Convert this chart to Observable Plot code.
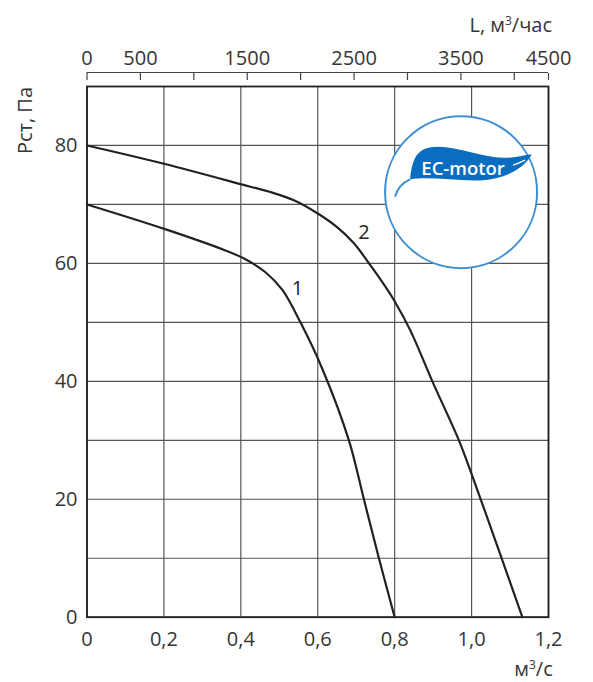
<!DOCTYPE html>
<html>
<head>
<meta charset="utf-8">
<script src="https://cdn.jsdelivr.net/npm/d3@7"></script>
<script src="https://cdn.jsdelivr.net/npm/@observablehq/plot@0.6"></script>
<style>
  body { margin: 0; background: #fff; }
  svg { font-family: "Open Sans", sans-serif; }
</style>
</head>
<body>
<div id="chart"></div>
<script>
// Airflow (m³/s) and static pressure (Pa)
const curve1Flow = [0, 0.199, 0.36, 0.412, 0.464, 0.508, 0.555, 0.612, 0.681, 0.72, 0.759, 0.8];
const curve1Pres = [70, 65.9, 62.2, 60.7, 58.5, 55.5, 50.0, 42.1, 30, 20, 10, 0];
const curve2Flow = [0, 0.2, 0.425, 0.477, 0.538, 0.599, 0.651, 0.694, 0.729, 0.763, 0.798, 0.841, 0.898, 0.967, 1.0, 1.078, 1.132];
const curve2Pres = [80, 76.9, 73.0, 72.1, 70.7, 68.5, 66.1, 63.4, 60.4, 57.3, 53.8, 48.6, 40, 30, 24.3, 10, 0];

const xTicks = [0, 0.2, 0.4, 0.6, 0.8, 1.0, 1.2];
const yTicks = [0, 20, 40, 60, 80];
const yGrid = [0, 10, 20, 30, 40, 50, 60, 70, 80, 90];
const topTicksH = [0, 500, 1000, 1500, 2000, 2500, 3000, 3500, 4000, 4320];
const topLabelsH = [0, 500, 1500, 2500, 3500, 4500];
const curveLabels = [{t: "1", x: 0.547, y: 55.7}, {t: "2", x: 0.72, y: 65.3}];

const rows = (fs, ps, id) => fs.map((f, i) => ({flow: f, p: ps[i], id}));
const data = [...rows(curve1Flow, curve1Pres, 1), ...rows(curve2Flow, curve2Pres, 2)];
const maxFlowH = 1.2 * 3600;
const fmt = d => d === 0 ? "0" : d.toFixed(1).replace(".", ",");

const textColor = "#353535";
const fs = 20;

const plot = Plot.plot({
  width: 593,
  height: 682,
  marginTop: 86,
  marginLeft: 86.5,
  marginRight: 45,
  marginBottom: 65.3,
  style: {fontSize: fs + "px", fontFamily: "Open Sans, sans-serif", color: textColor, background: "#fff"},
  x: {domain: [0, 1.2]},
  y: {domain: [0, 90]},
  marks: [
    Plot.gridX(xTicks, {stroke: "#555", strokeOpacity: 1, strokeWidth: 1.2}),
    Plot.gridY(yGrid, {stroke: "#555", strokeOpacity: 1, strokeWidth: 1.2}),
    Plot.frame({stroke: "#222", strokeWidth: 1.8}),
    Plot.axisX(xTicks, {anchor: "bottom", tickSize: 0, tickPadding: 15, tickFormat: fmt, fontSize: fs, label: null, fill: textColor}),
    Plot.axisY(yTicks, {anchor: "left", tickSize: 0, tickPadding: 9.5, fontSize: fs, label: null, fill: textColor}),
    // top axis (m³/час)
    Plot.ruleY([90], {dy: -14, stroke: "#444", strokeWidth: 1.2}),
    Plot.axisX(topTicksH.map(h => h / 3600), {anchor: "top", tickSize: -7, dy: -14, tickFormat: () => "", label: null, stroke: "#444", strokeWidth: 1.2}),
    Plot.text(topLabelsH, {x: h => Math.min(h, maxFlowH) / 3600, text: h => String(h), frameAnchor: "top", dy: -27.5, lineAnchor: "middle", fontSize: fs, fill: textColor}),
    Plot.text(["L, м³/час"], {frameAnchor: "top-right", textAnchor: "end", dx: 3.5, dy: -61, lineAnchor: "middle", fontSize: fs, fill: textColor}),
    Plot.text(["м³/с"], {frameAnchor: "bottom-right", textAnchor: "middle", dx: -15, dy: 52, lineAnchor: "middle", fontSize: fs, fill: textColor}),
    Plot.text(["Рст, Па"], {frameAnchor: "top-left", dx: -61.5, dy: 34, rotate: -90, lineAnchor: "middle", textAnchor: "middle", fontSize: fs, fill: textColor}),
    Plot.line(data, {x: "flow", y: "p", z: "id", stroke: "#222", strokeWidth: 2.2, curve: "catmull-rom"}),
    Plot.text(curveLabels, {x: "x", y: "y", text: "t", fontSize: 20, fill: "#222"})
  ]
});

document.getElementById("chart").appendChild(plot);

// small superscript ³ like in the reference
plot.querySelectorAll("text, tspan").forEach(el => {
  if (el.children.length === 0 && el.textContent.includes("³")) {
    const [a, b] = el.textContent.split("³");
    el.innerHTML = `${a}<tspan font-size="12" dy="-7">3</tspan><tspan dy="7">${b}</tspan>`;
  }
});

// EC-motor badge positioned through the plot's scales
const sx = plot.scale("x"), sy = plot.scale("y");
const cx = sx.apply(0.974), cy = sy.apply(72.0);
const svgNS = "http://www.w3.org/2000/svg";
const g = document.createElementNS(svgNS, "g");
g.setAttribute("transform", `translate(${cx},${cy})`);
g.innerHTML = `
  <circle r="76" fill="#fff" stroke="#3d8fd6" stroke-width="2"/>
  <path d="M-51,-12.7 C-49.3,-29.3 -46,-41 -32.7,-44.3 C-11,-49.3 19,-34.3 42.3,-34.3 C55.7,-34.3 64,-37.7 70.7,-37.7 C62.3,-22.7 42.3,-12.7 19,-11.7 C-7.7,-11 -31,-16 -51,-12.7 Z" fill="#0b6dbf"/>
  <path d="M-51,-12.7 Q-62.7,-7.7 -66,4.7" fill="none" stroke="#3d8fd6" stroke-width="2"/>
  <path d="M52,-27 Q58,-29 64,-32" fill="none" stroke="#fff" stroke-width="1.2"/>
  <text x="2" y="-22" text-anchor="middle" dominant-baseline="middle" fill="#fff" font-family="Open Sans, sans-serif" font-weight="600" font-size="18.5">EC-motor</text>
`;
plot.appendChild(g);
</script>
</body>
</html>
